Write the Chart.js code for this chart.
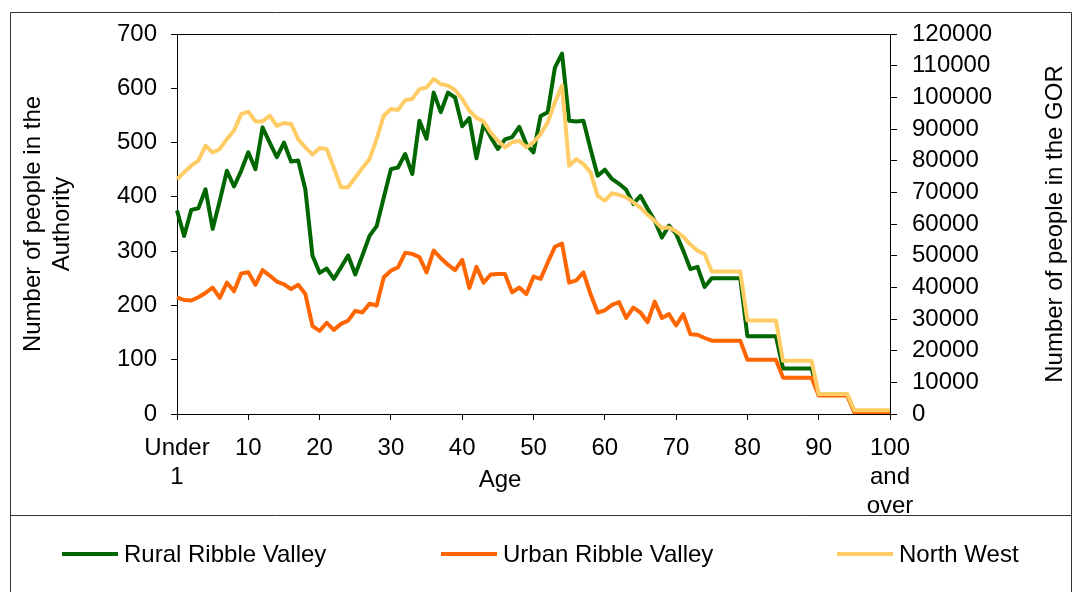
<!DOCTYPE html>
<html>
<head>
<meta charset="utf-8">
<script src="https://cdn.jsdelivr.net/npm/chart.js@4/dist/chart.umd.min.js"></script>
<style>
  body { margin: 0; background: #fff; font-family: "Liberation Sans", Arial, sans-serif; }
  #wrap { position: relative; width: 1073px; height: 592px; }
  #legend { position: absolute; left: 0; top: 516px; width: 1073px; height: 76px; }
  .item { position: absolute; top: 24px; display: flex; align-items: center; font-size: 24px; color: #000; }
  .swatch { width: 56px; height: 4px; margin-right: 6px; }
</style>
</head>
<body>
<div id="wrap">
  <canvas id="chart" width="1073" height="592"></canvas>
  <div id="legend"></div>
</div>
<script>
// categories
const ages = ["Under 1"].concat(Array.from({ length: 99 }, (_, i) => String(i + 1)), ["100 and over"]);

const xTickLabels = [["Under", "1"], "10", "20", "30", "40", "50", "60", "70", "80", "90", ["100", "and", "over"]];

// Rural Ribble Valley (left axis)
const rural = [
  375, 328, 376, 379, 414, 341, 393, 448, 419, 448,
  482, 451, 528, 500, 473, 500, 465, 467, 414, 292,
  260, 268, 249, 270, 292, 257, 292, 328, 346, 399,
  451, 454, 479, 442, 540, 507, 592, 556, 592, 583,
  530, 545, 471, 534, 510, 488, 506, 510, 529, 497,
  482, 549, 556, 638, 664, 540, 539, 540, 488, 439,
  450, 433, 424, 413, 387, 402, 378, 356, 325, 347,
  332, 301, 267, 271, 234, 250, 250, 250, 250, 250,
  143, 143, 143, 143, 143, 84, 84, 84, 84, 84,
  35, 35, 35, 35, 35, 4, 4, 4, 4, 4,
  4
];

// Urban Ribble Valley (left axis)
const urban = [
  215, 210, 209, 215, 223, 233, 214, 242, 226, 259,
  261, 238, 265, 255, 244, 239, 230, 238, 221, 162,
  153, 168, 155, 166, 172, 190, 187, 203, 200, 252,
  264, 270, 297, 295, 289, 261, 301, 287, 275, 265,
  284, 232, 271, 242, 257, 258, 258, 224, 233, 221,
  253, 249, 279, 308, 314, 242, 246, 261, 221, 187,
  191, 201, 206, 177, 196, 187, 169, 207, 177, 184,
  163, 184, 147, 146, 140, 135, 135, 135, 135, 135,
  100, 100, 100, 100, 100, 67, 67, 67, 67, 67,
  34, 34, 34, 34, 34, 3, 3, 3, 3, 3,
  3
];

// North West (right axis)
const northWest = [
  74200, 76300, 78400, 80000, 84700, 82600, 83700, 86800, 89500, 94700,
  95500, 92400, 92400, 94200, 91000, 91900, 91600, 86800, 84200, 81900,
  84000, 83700, 77700, 71600, 71600, 74700, 77700, 80500, 86800, 94200,
  96300, 96000, 99100, 99500, 102600, 103100, 105800, 104200, 103700, 102300,
  99500, 95800, 93500, 92400, 88900, 86300, 84200, 85800, 86300, 84200,
  85800, 88400, 92100, 98400, 103700, 78400, 80500, 78900, 76300, 68900,
  67400, 69700, 69200, 68400, 66800, 65200, 62900, 61000, 58700, 58900,
  57700, 56000, 53500, 51600, 50500, 45000, 45000, 45000, 45000, 45000,
  29500, 29500, 29500, 29500, 29500, 16800, 16800, 16800, 16800, 16800,
  6300, 6300, 6300, 6300, 6300, 1200, 1200, 1200, 1200, 1200,
  1200
];

const seriesNames = ["Rural Ribble Valley", "Urban Ribble Valley", "North West"];
const seriesColors = ["#006600", "#FF6600", "#FFCC66"];

Chart.defaults.font.family = "'Liberation Sans', Arial, sans-serif";
Chart.defaults.font.size = 24;
Chart.defaults.color = "#000";

// outer frame, legend divider, top edge of the plot and the two titles Excel puts off-centre
const framePlugin = {
  id: "frame",
  beforeDraw(chart) {
    const ctx = chart.ctx;
    ctx.save();
    ctx.fillStyle = "#fff";
    ctx.fillRect(0, 0, chart.width, chart.height);
    ctx.strokeStyle = "#333";
    ctx.lineWidth = 1;
    ctx.beginPath();
    ctx.moveTo(10.5, 592);
    ctx.lineTo(10.5, 12.5);
    ctx.lineTo(1071.5, 12.5);
    ctx.lineTo(1071.5, 592);
    ctx.moveTo(10.5, 515.5);
    ctx.lineTo(1071.5, 515.5);
    ctx.stroke();
    const a = chart.chartArea;
    ctx.strokeStyle = "#000";
    ctx.beginPath();
    ctx.moveTo(a.left, a.top + 0.5);
    ctx.lineTo(a.right, a.top + 0.5);
    ctx.stroke();
    ctx.restore();
  },
  afterDraw(chart) {
    const ctx = chart.ctx;
    const a = chart.chartArea;
    ctx.save();
    ctx.font = "24px 'Liberation Sans', Arial, sans-serif";
    ctx.fillStyle = "#000";
    ctx.textAlign = "center";
    ctx.textBaseline = "middle";
    ctx.fillText("Age", 500, 480);
    // right axis title reads bottom to top
    ctx.translate(1055, (a.top + a.bottom) / 2);
    ctx.rotate(-Math.PI / 2);
    ctx.fillText("Number of people in the GOR", 0, 0);
    ctx.restore();
  }
};

const ctx = document.getElementById("chart").getContext("2d");
const chart = new Chart(ctx, {
  type: "line",
  data: {
    labels: ages,
    datasets: [
      { label: seriesNames[0], data: rural, borderColor: seriesColors[0], backgroundColor: seriesColors[0], yAxisID: "y", order: 3 },
      { label: seriesNames[1], data: urban, borderColor: seriesColors[1], backgroundColor: seriesColors[1], yAxisID: "y", order: 2 },
      { label: seriesNames[2], data: northWest, borderColor: seriesColors[2], backgroundColor: seriesColors[2], yAxisID: "y1", order: 1 }
    ]
  },
  options: {
    responsive: false,
    animation: false,
    devicePixelRatio: 1,
    elements: {
      point: { radius: 0 },
      line: { borderWidth: 4, tension: 0, borderJoinStyle: "round" }
    },
    layout: { padding: { left: 10, right: 0, top: 34, bottom: 77 } },
    plugins: { legend: { display: false }, tooltip: { enabled: false } },
    scales: {
      x: {
        grid: { drawOnChartArea: false, drawTicks: true, tickLength: 6, color: "#000" },
        border: { color: "#000" },
        ticks: {
          autoSkip: false,
          maxRotation: 0,
          minRotation: 0,
          padding: 14,
          callback: function (value, index) {
            return index % 10 === 0 ? xTickLabels[index / 10] : null;
          }
        },
        afterFit: function (scale) { scale.height = 101; }
      },
      y: {
        position: "left",
        min: 0,
        max: 700,
        grid: { drawOnChartArea: false, drawTicks: true, tickLength: 6, color: "#000" },
        border: { color: "#000" },
        ticks: { stepSize: 100, padding: 14, autoSkip: false },
        title: { display: true, text: ["Number of people in the", "Authority"], padding: { top: 9, bottom: 0 } },
        afterFit: function (scale) { scale.width = 167; }
      },
      y1: {
        position: "right",
        min: 0,
        max: 120000,
        grid: { drawOnChartArea: false, drawTicks: true, tickLength: 7, color: "#000" },
        border: { color: "#000" },
        ticks: {
          stepSize: 10000,
          padding: 15,
          autoSkip: false,
          callback: function (value) { return String(value); }
        },
        afterFit: function (scale) { scale.width = 183; }
      }
    }
  },
  plugins: [framePlugin]
});

// legend built from the datasets
const legendLeft = [62, 441, 837];
const legend = document.getElementById("legend");
chart.data.datasets.forEach(function (ds, i) {
  const item = document.createElement("div");
  item.className = "item";
  item.style.left = legendLeft[i] + "px";
  const sw = document.createElement("span");
  sw.className = "swatch";
  sw.style.background = ds.borderColor;
  const txt = document.createElement("span");
  txt.textContent = ds.label;
  item.appendChild(sw);
  item.appendChild(txt);
  legend.appendChild(item);
});
</script>
</body>
</html>
